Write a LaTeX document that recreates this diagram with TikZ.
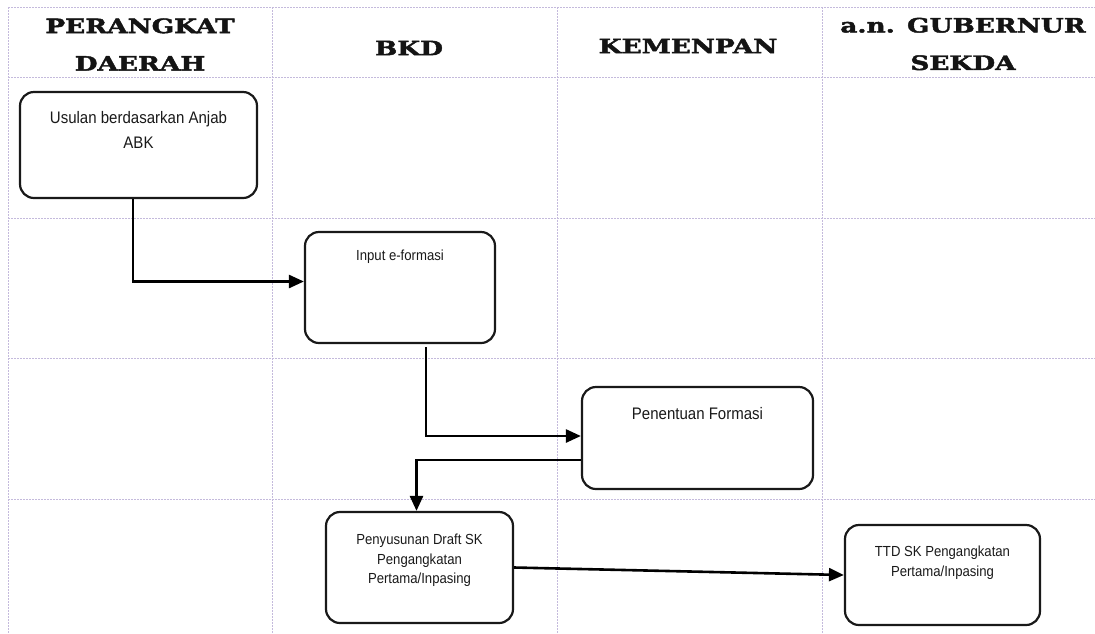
\documentclass[tikz,border=0pt]{standalone}
\usepackage{fontspec}
\setmainfont{Liberation Sans}
\newfontfamily\boxfont{Liberation Sans}[FakeStretch=0.9]
\newfontfamily\headfont{DejaVu Serif Bold}[FakeStretch=1.33, FakeBold=2.2]
\usetikzlibrary{positioning, arrows.meta}
\definecolor{gridc}{RGB}{196,186,220}

\begin{document}
\begin{tikzpicture}[x=1pt, y=-1pt, >={Triangle[length=15pt, width=13pt]},
    box/.style={draw=black!90, line width=2.2pt, rounded corners=14pt},
    lbl/.style={font=\boxfont\fontsize{16.7}{25}\selectfont, text=black!90, align=center, inner sep=0pt},
    lblsmall/.style={lbl, font=\boxfont\fontsize{14.6}{19.5}\selectfont},
    head/.style={font=\headfont\fontsize{19.8}{37.5}\selectfont, text=black!92, align=center},
    lane/.style={draw=gridc, line width=0.7pt, dash pattern=on 2pt off 1pt},
    link/.style={->, line width=2.6pt}]
    \useasboundingbox (0,0) rectangle (1095,633);

    \foreach \x in {8, 272, 557, 822}
        \draw[lane] (\x,7) -- (\x,633);
    \foreach \y in {7, 77, 218, 358, 499}
        \draw[lane] (8,\y) -- (1095,\y);

    \node[head] (hpd) at (140,44.5) {PERANGKAT\\DAERAH};
    \node[head] (hbkd) at (409,48) {BKD};
    \node[head] (hkem) at (688,46) {KEMENPAN};
    \node[head] (hgub) at (963,44) {a.n. GUBERNUR\\SEKDA};

    \node[box, minimum width=237pt, minimum height=106pt] (usul) at (138.5,145) {};
    \node[lbl, below=20pt of usul.north] (usultxt)
        {Usulan berdasarkan Anjab\\ABK};

    \node[box, minimum width=190pt, minimum height=111pt] (inp) at (400,287.5) {};
    \node[lblsmall, below=19pt of inp.north] (inptxt)
        {Input e-formasi};

    \node[box, minimum width=231pt, minimum height=102pt] (tentu) at (697.5,438) {};
    \node[lbl, below=21pt of tentu.north] (tentutxt)
        {Penentuan Formasi};

    \node[box, minimum width=187pt, minimum height=111pt] (draft) at (419.5,567.5) {};
    \node[lblsmall, below=23pt of draft.north] (drafttxt)
        {Penyusunan Draft SK\\Pengangkatan\\Pertama/Inpasing};

    \node[box, minimum width=195pt, minimum height=100pt] (ttd) at (942.5,575) {};
    \node[lblsmall, below=22pt of ttd.north] (ttdtxt)
        {TTD SK Pengangkatan\\Pertama/Inpasing};

    \draw[link] ([xshift=-5.5pt]usul.south) |- ([yshift=6pt]inp.west);
    \draw[link] ([xshift=26pt, yshift=-3pt]inp.south) |- ([yshift=2pt]tentu.west);
    \draw[link] ([yshift=-22pt]tentu.west) -| ([xshift=-3pt]draft.north);
    \draw[link] (draft.east) -- (ttd.west);

\end{tikzpicture}
\end{document}
